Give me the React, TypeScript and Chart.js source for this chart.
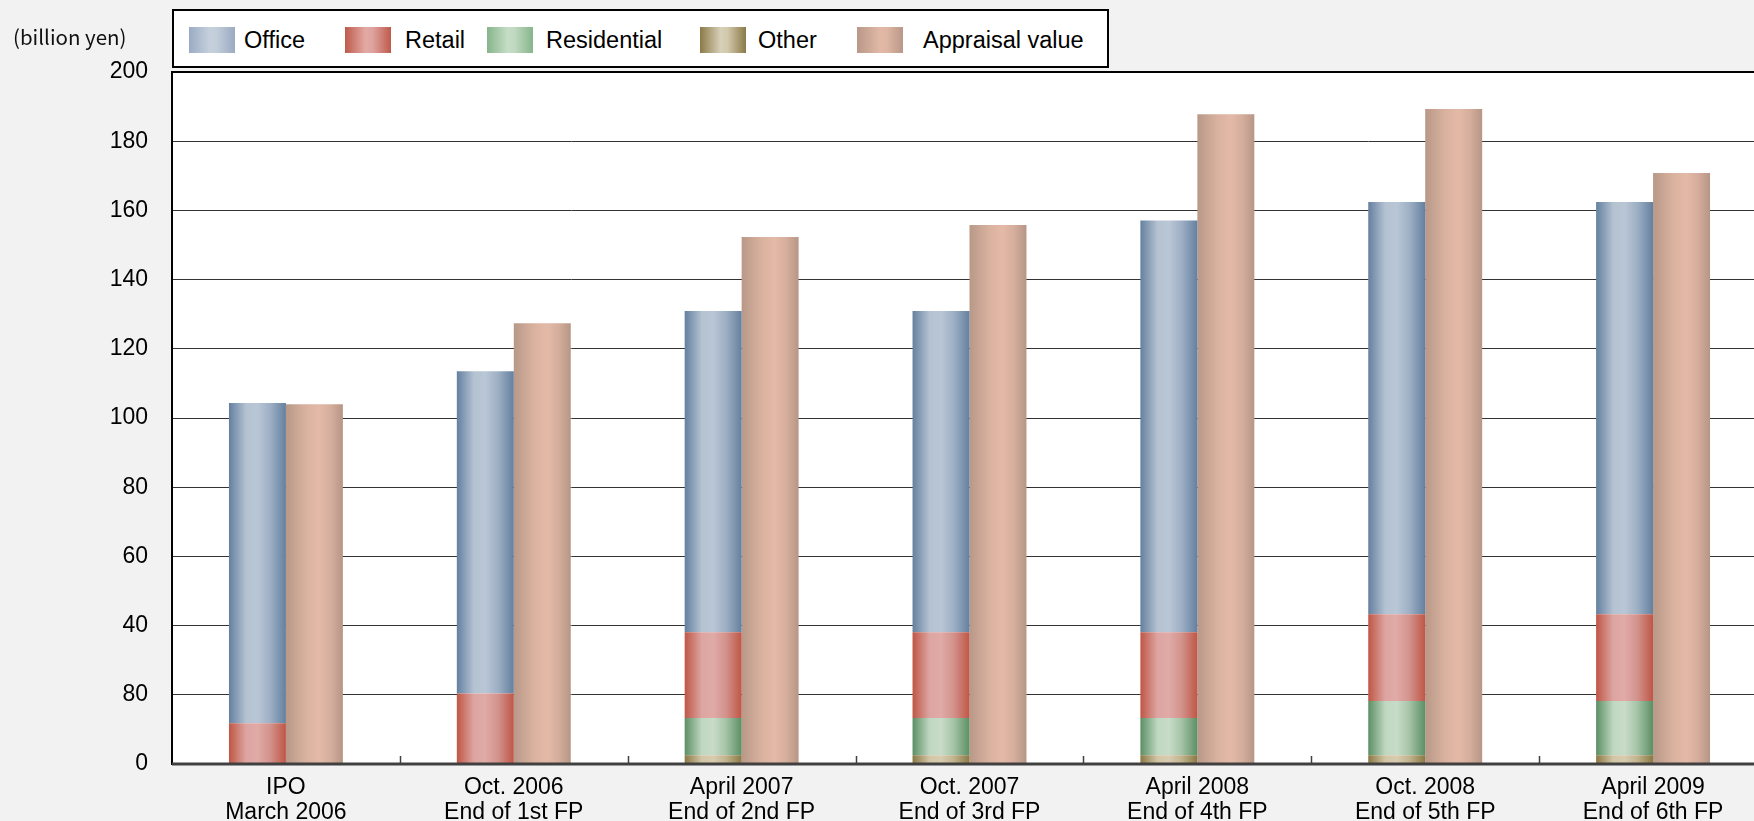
import React, { useEffect, useRef } from "react";
import { Chart, registerables } from "chart.js";

Chart.register(...registerables);

// ---- data ----
const categories: string[][] = [
  ["IPO", "March 2006"],
  ["Oct. 2006", "End of 1st FP"],
  ["April 2007", "End of 2nd FP"],
  ["Oct. 2007", "End of 3rd FP"],
  ["April 2008", "End of 4th FP"],
  ["Oct. 2008", "End of 5th FP"],
  ["April 2009", "End of 6th FP"],
];
const otherValues = [0, 0, 2.5, 2.5, 2.5, 2.5, 2.5];
const residentialValues = [0, 0, 10.8, 10.8, 10.8, 15.7, 15.7];
const retailValues = [11.8, 20.4, 24.8, 24.8, 24.8, 25.1, 25.1];
const officeValues = [92.5, 93.1, 92.8, 92.8, 119.0, 119.1, 119.1];
const appraisalValues = [104.0, 127.4, 152.3, 155.8, 187.8, 189.3, 170.8];
const yTickLabels = ["0", "80", "40", "60", "80", "100", "120", "140", "160", "180", "200"];
const seriesNames = ["Office", "Retail", "Residential", "Other", "Appraisal value"];
const unitLabel = "(billion yen)";

// gradient stops (bar body)
const barStops: Record<string, [number, string][]> = {
  Office: [[0, "#64809f"], [0.3, "#b4c2d2"], [0.5, "#b9c6d5"], [0.72, "#9fb0c5"], [1, "#64809f"]],
  Retail: [[0, "#bf5646"], [0.3, "#dda5a1"], [0.5, "#e0aaa7"], [0.72, "#d3938d"], [1, "#bf5646"]],
  Residential: [[0, "#5b8f64"], [0.3, "#bfd7c1"], [0.5, "#c8dcc8"], [0.72, "#a6c4a8"], [1, "#5b8f64"]],
  Other: [[0, "#8a7844"], [0.3, "#d2c6a6"], [0.5, "#d8ccb0"], [0.72, "#c2b48e"], [1, "#8a7844"]],
  "Appraisal value": [[0, "#b89888"], [0.35, "#d9b29f"], [0.58, "#e4b9a7"], [0.78, "#d6ae9d"], [1, "#b69686"]],
};
// legend swatch gradients
const swatchCss: Record<string, string> = {
  Office: "linear-gradient(90deg,#9aabc4 0%,#c6d0dc 45%,#c2cdda 60%,#9aaac2 100%)",
  Retail: "linear-gradient(90deg,#bf5a4c 0%,#e2aaa5 45%,#dea39e 60%,#bf5a4c 100%)",
  Residential: "linear-gradient(90deg,#86b58b 0%,#c6ddc6 45%,#c0d9c0 60%,#86b58b 100%)",
  Other: "linear-gradient(90deg,#8b7a48 0%,#d8d0b8 45%,#d2c8ac 60%,#8b7a48 100%)",
  "Appraisal value": "linear-gradient(90deg,#b89888 0%,#e2b8a6 50%,#dfb5a3 65%,#b89888 100%)",
};
const legendSwatchX = [189, 345, 487, 700, 857];
const legendTextX = [244, 405, 546, 758, 923];

const FONT = "'Liberation Sans', Arial, sans-serif";

export default function App() {
  const canvasRef = useRef<HTMLCanvasElement | null>(null);

  useEffect(() => {
    document.body.style.margin = "0";
    document.body.style.background = "#f2f2f2";
    document.body.style.overflow = "hidden";
    const canvas = canvasRef.current!;

    const gradientPlugin = {
      id: "barGradients",
      beforeDraw(chart: any) {
        const { ctx, chartArea } = chart;
        ctx.save();
        ctx.fillStyle = "#ffffff";
        ctx.fillRect(chartArea.left, chartArea.top, chartArea.right - chartArea.left, chartArea.bottom - chartArea.top);
        ctx.restore();
      },
      beforeDatasetsDraw(chart: any) {
        const ctx = chart.ctx;
        chart.data.datasets.forEach((ds: any, i: number) => {
          const stops = barStops[ds.label];
          const meta = chart.getDatasetMeta(i);
          meta.data.forEach((el: any) => {
            const { x, width } = el.getProps(["x", "width"], true);
            const left = x - width / 2;
            const g = ctx.createLinearGradient(left, 0, left + width, 0);
            stops.forEach(([o, c]) => g.addColorStop(o, c));
            el.options = Object.assign({}, el.options, { backgroundColor: g });
          });
        });
      },
      afterDatasetsDraw(chart: any) {
        const { ctx, chartArea, scales } = chart;
        const xs = scales.x;
        ctx.save();
        ctx.strokeStyle = "#404040";
        ctx.lineWidth = 1.5;
        for (let i = 1; i < categories.length; i++) {
          const px = Math.round((xs.getPixelForValue(i - 1) + xs.getPixelForValue(i)) / 2) + 0.5;
          ctx.beginPath();
          ctx.moveTo(px, chartArea.bottom);
          ctx.lineTo(px, chartArea.bottom - 8);
          ctx.stroke();
        }
        ctx.lineWidth = 3;
        ctx.beginPath();
        ctx.moveTo(chartArea.left, chartArea.bottom);
        ctx.lineTo(chartArea.right + 10, chartArea.bottom);
        ctx.stroke();
        ctx.restore();
      },
    };

    const chart = new Chart(canvas, {
      type: "bar",
      data: {
        labels: categories,
        datasets: [
          { label: "Other", data: otherValues, stack: "s" },
          { label: "Residential", data: residentialValues, stack: "s" },
          { label: "Retail", data: retailValues, stack: "s" },
          { label: "Office", data: officeValues, stack: "s" },
          { label: "Appraisal value", data: appraisalValues, stack: "a" },
        ].map((d) => ({
          ...d,
          backgroundColor: "#cccccc",
          borderWidth: 0,
          categoryPercentage: 0.5,
          barPercentage: 1.0,
        })),
      },
      options: {
        animation: false,
        responsive: false,
        devicePixelRatio: 1,
        layout: { padding: { top: 72, right: 5, left: 0, bottom: 0 } },
        plugins: { legend: { display: false }, tooltip: { enabled: false } },
        scales: {
          x: {
            stacked: true,
            grid: { display: false },
            border: { display: false },
            ticks: {
              color: "#000",
              font: { family: FONT, size: 23, lineHeight: 1.05 },
              padding: 4,
              maxRotation: 0,
              autoSkip: false,
            },
            afterFit(scale: any) {
              scale.height = 57;
            },
          },
          y: {
            stacked: true,
            min: 0,
            max: 200,
            grid: {
              drawTicks: false,
              color: (c: any) => (c.tick && c.tick.value === 200 ? "#000000" : "#333333"),
              lineWidth: (c: any) => (c.tick && c.tick.value === 200 ? 2 : 1),
            },
            border: { display: true, color: "#000", width: 2 },
            ticks: {
              stepSize: 20,
              color: "#000",
              padding: 24,
              font: { family: FONT, size: 23 },
              callback: (_v: any, i: number) => yTickLabels[i],
            },
            afterFit(scale: any) {
              scale.width = 172;
            },
          },
        },
      },
      plugins: [gradientPlugin],
    } as any);
    return () => chart.destroy();
  }, []);

  return (
    <div style={{ position: "relative", width: 1754, height: 821, overflow: "hidden", background: "#f2f2f2" }}>
      <canvas ref={canvasRef} width={1772} height={821} style={{ position: "absolute", left: 0, top: 0 }} />
      <div
        style={{
          position: "absolute",
          left: 13,
          top: 21,
          fontFamily: "'Noto Sans CJK JP', 'Noto Sans', sans-serif",
          fontSize: 20.5,
          color: "#111",
          whiteSpace: "nowrap",
        }}
      >
        {unitLabel}
      </div>
      <div
        style={{
          position: "absolute",
          left: 172,
          top: 9,
          width: 933,
          height: 55,
          border: "2px solid #000",
          background: "#fff",
        }}
      />
      {seriesNames.map((name, i) => (
        <React.Fragment key={name}>
          <div
            style={{
              position: "absolute",
              left: legendSwatchX[i],
              top: 27,
              width: 46,
              height: 26,
              background: swatchCss[name],
            }}
          />
          <div
            style={{
              position: "absolute",
              left: legendTextX[i],
              top: 25,
              fontFamily: FONT,
              fontSize: 23.5,
              lineHeight: "30px",
              color: "#000",
              whiteSpace: "nowrap",
            }}
          >
            {name}
          </div>
        </React.Fragment>
      ))}
    </div>
  );
}
